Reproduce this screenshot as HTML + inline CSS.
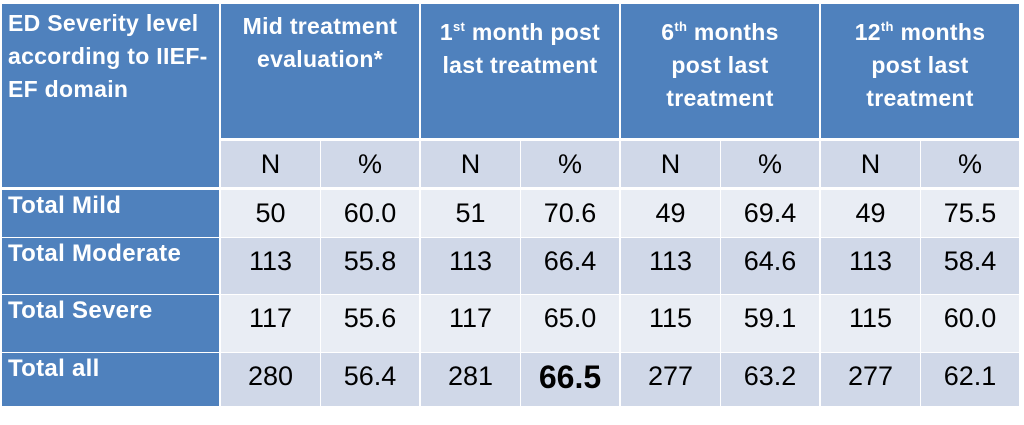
<!DOCTYPE html>
<html><head><meta charset="utf-8"><style>
body{margin:0;width:1024px;height:425px;background:#fff;position:relative;overflow:hidden;font-family:"Liberation Sans",sans-serif}
.c{position:absolute;box-sizing:border-box;display:flex;justify-content:center}
.h{background:#4F81BD;color:#fff;font-weight:bold;font-size:23px;line-height:33px;text-align:center;padding-top:6px;letter-spacing:0.3px}
.l{background:#4F81BD;color:#fff;font-weight:bold;font-size:24px;justify-content:flex-start;padding:2px 0 0 6px;letter-spacing:0.3px}
.d{background:#D0D8E8;font-size:27px;color:#000;align-items:flex-start;padding-top:8px}
.e{background:#E9EDF4;font-size:27px;color:#000;align-items:flex-start;padding-top:8px}
sup{font-size:13px;vertical-align:9px}
</style></head><body>
<div id="t"></div>
<script>
const rowLabels=["Total Mild","Total Moderate","Total Severe","Total all"];
const nVals=[[50,51,49,49],[113,113,113,113],[117,117,115,115],[280,281,277,277]];
const pctVals=[["60.0","70.6","69.4","75.5"],["55.8","66.4","64.6","58.4"],["55.6","65.0","59.1","60.0"],["56.4","66.5","63.2","62.1"]];
const headers=["Mid treatment<br>evaluation*","1<sup>st</sup> month post<br>last treatment","6<sup>th</sup> months<br>post last<br>treatment","12<sup>th</sup> months<br>post last<br>treatment"];
const rowTops=[190,238,295,353],rowBots=[237,294,352,406];
function cell(x,y,w,h,cls,html,name){const d=document.createElement('div');d.className='c '+cls;d.style.left=x+'px';d.style.top=y+'px';d.style.width=w+'px';d.style.height=h+'px';d.innerHTML=html;


document.body.appendChild(d);return d;}
const corner=cell(2,4,217,183,'h','ED Severity level<br>according to IIEF-<br>EF domain','corner-header');
corner.style.textAlign='left';corner.style.justifyContent='flex-start';corner.style.padding='3px 0 0 6px';
headers.forEach((h,i)=>{cell(221+i*200,4,198,134,'h','<div style="white-space:nowrap">'+h+'</div>','period-header');
cell(221+i*200,141,99,46,'d','N','n-header');cell(321+i*200,141,98,46,'d','%','pct-header');});
rowLabels.forEach((r,j)=>{const y=rowTops[j],h=rowBots[j]-y;const cls=j%2?'d':'e';
cell(2,y,217,h,'l',r,'row-label');
for(let i=0;i<4;i++){cell(221+i*200,y,99,h,cls,String(nVals[j][i]),'n-value');
const p=cell(321+i*200,y,98,h,cls,pctVals[j][i],'pct-value');
if(j==3&&i==1){p.style.fontWeight='bold';p.style.fontSize='32px';p.style.paddingTop='6px';}}});
</script>
</body></html>
